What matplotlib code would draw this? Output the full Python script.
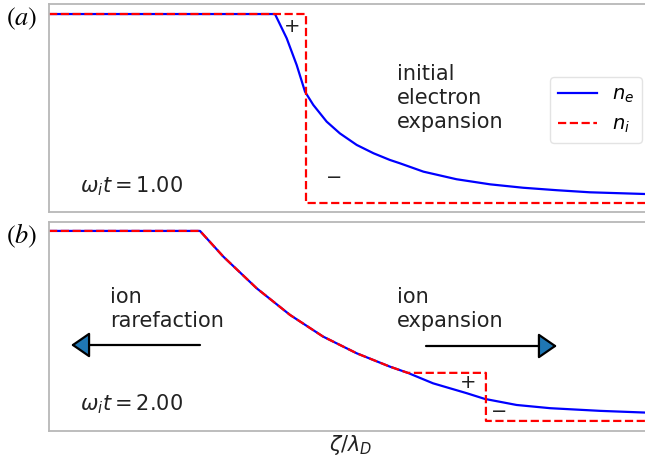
import matplotlib
matplotlib.use("Agg")
import matplotlib.pyplot as plt
from matplotlib.patches import FancyArrowPatch

# ---- data (x in arbitrary zeta/lambda_D units, densities normalised) ----
xa_i = [0, 42.8, 42.8, 100]
na_i = [1.0, 1.0, 0.0, 0.0]
xa_e = [0, 37.6, 39.55, 41.21, 42.6, 43.98, 46.2, 48.4, 51.2, 54.0, 56.7, 58.4,
        62.3, 67.8, 73.4, 78.9, 84.5, 90.0, 99.2, 100]
na_e = [1.0, 1.0, 0.872, 0.731, 0.590, 0.520, 0.432, 0.370, 0.309, 0.265, 0.230, 0.212,
        0.168, 0.128, 0.101, 0.083, 0.070, 0.059, 0.050, 0.049]

xb_i = [0, 25.12, 29.0, 34.56, 40.1, 45.6, 51.2, 56.7, 59.7, 72.7, 72.7, 100]
nb_i = [1.0, 1.0, 0.865, 0.698, 0.558, 0.444, 0.356, 0.286, 0.253, 0.253, 0.0, 0.0]
xb_e = [0, 25.12, 29.0, 34.56, 40.1, 45.6, 51.2, 56.7, 59.7, 63.9, 69.5, 72.5,
        77.8, 83.4, 91.7, 99.2, 100]
nb_e = [1.0, 1.0, 0.865, 0.698, 0.558, 0.444, 0.356, 0.286, 0.253, 0.198, 0.146, 0.116,
        0.084, 0.067, 0.053, 0.044, 0.044]

time_labels = [r"$\omega_i t = 1.00$", r"$\omega_i t = 2.00$"]
panel_labels = [r"$(a)$", r"$(b)$"]

W, H = 645, 459
fig = plt.figure(figsize=(W / 100, H / 100), dpi=100)

def fx(px):
    return px / W

def fy(py):
    return 1 - py / H

axa = fig.add_axes([fx(49), fy(212), (650 - 49) / W, (212 - 4) / H])
axb = fig.add_axes([fx(49), fy(431), (650 - 49) / W, (431 - 222) / H])

spine_col = "#b8b8b8"
for ax in (axa, axb):
    ax.set_xticks([])
    ax.set_yticks([])
    ax.set_xlim(0, 100)
    for s in ax.spines.values():
        s.set_color(spine_col)
        s.set_linewidth(1.3)

axa.set_ylim(-0.045, 1.053)
axb.set_ylim(-0.053, 1.047)

lw = 1.6
axa.plot(xa_e, na_e, color="#0000ff", lw=lw, label=r"$n_e$")
axa.plot(xa_i, na_i, color="#ff0000", lw=lw, ls="--", label=r"$n_i$")
axb.plot(xb_e, nb_e, color="#0000ff", lw=lw)
axb.plot(xb_i, nb_i, color="#ff0000", lw=lw, ls="--")

fs = 15
txt = "#222222"
# panel labels
fig.text(fx(6), fy(25), panel_labels[0], fontsize=19, math_fontfamily="stix", ha="left", va="baseline")
fig.text(fx(6), fy(243), panel_labels[1], fontsize=19, math_fontfamily="stix", ha="left", va="baseline")

# time labels
fig.text(fx(80), fy(192), time_labels[0], fontsize=fs, color=txt, va="baseline")
fig.text(fx(80), fy(410), time_labels[1], fontsize=fs, color=txt, va="baseline")

# panel (a) annotations
for i, line in enumerate(["initial", "electron", "expansion"]):
    fig.text(fx(397), fy(80 + 24 * i), line, fontsize=fs, color=txt, va="baseline")
fig.text(fx(292), fy(27), "+", fontsize=14, color=txt, ha="center", va="center")
fig.text(fx(334), fy(178), "\u2212", fontsize=14, color=txt, ha="center", va="center")

# panel (b) annotations
for i, line in enumerate(["ion", "rarefaction"]):
    fig.text(fx(110), fy(303 + 24 * i), line, fontsize=fs, color=txt, va="baseline")
for i, line in enumerate(["ion", "expansion"]):
    fig.text(fx(397), fy(303 + 24 * i), line, fontsize=fs, color=txt, va="baseline")
fig.text(fx(468), fy(383), "+", fontsize=14, color=txt, ha="center", va="center")
fig.text(fx(499), fy(412), "\u2212", fontsize=14, color=txt, ha="center", va="center")

arrow_kw = dict(arrowstyle="-|>,head_length=0.58,head_width=0.4",
                fc="#1f77b4", ec="black", lw=1.6, mutation_scale=20,
                shrinkA=0, shrinkB=0)
for (x0, x1, y) in [(200, 71, 345), (426, 557, 346)]:
    p = FancyArrowPatch((fx(x0), fy(y)), (fx(x1), fy(y)), transform=fig.transFigure, **arrow_kw)
    fig.patches.append(p)

# x label
fig.text(fx(351), fy(445), r"$\zeta/\lambda_D$", fontsize=fs, color=txt, ha="center", va="center")

leg = axa.legend(loc="upper right", bbox_to_anchor=(fx(642), fy(77)),
                 bbox_transform=fig.transFigure, borderaxespad=0,
                 fontsize=14, handlelength=2.0, fancybox=True)
leg.get_frame().set_edgecolor("#dddddd")

fig.savefig("out.png", dpi=100)
